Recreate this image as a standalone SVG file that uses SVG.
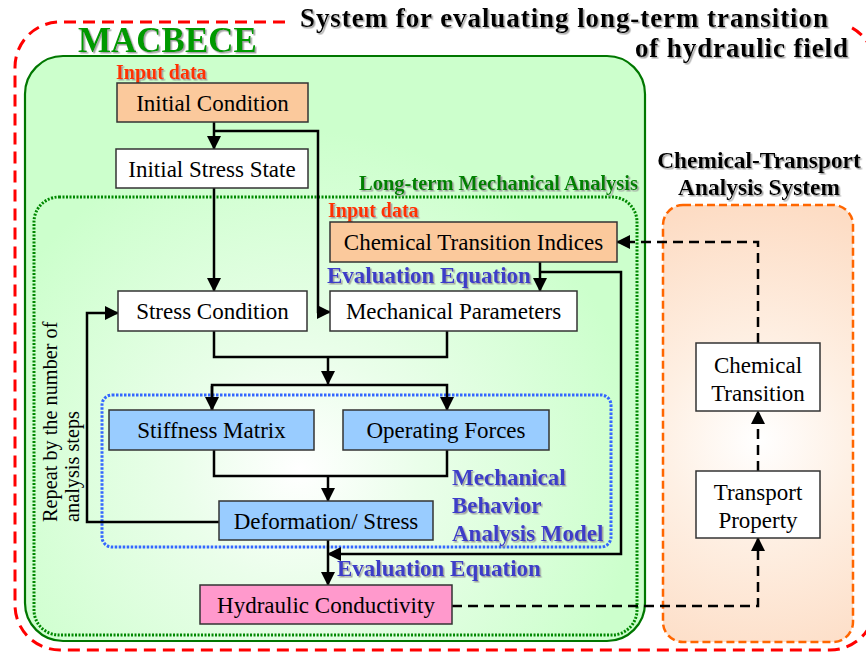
<svg xmlns="http://www.w3.org/2000/svg" width="866" height="652" viewBox="0 0 866 652">
<defs>
<radialGradient id="gGreen" gradientUnits="userSpaceOnUse" cx="300" cy="470" r="340">
<stop offset="0" stop-color="#ffffff"/><stop offset="0.35" stop-color="#eafeea"/><stop offset="1" stop-color="#ccffcc"/>
</radialGradient>
<radialGradient id="gOrange" gradientUnits="userSpaceOnUse" cx="758" cy="440" r="240">
<stop offset="0" stop-color="#ffffff"/><stop offset="0.4" stop-color="#fef0e4"/><stop offset="1" stop-color="#fddcc4"/>
</radialGradient>
<filter id="sh" x="-10%" y="-30%" width="120%" height="160%">
<feDropShadow dx="1.5" dy="1.5" stdDeviation="0.7" flood-color="#999" flood-opacity="0.9"/>
</filter>
<marker id="ah" markerUnits="userSpaceOnUse" markerWidth="14" markerHeight="14" viewBox="0 0 14 14" refX="13" refY="7" orient="auto">
<path d="M0,0 L14,7 L0,14 Z" fill="#000"/>
</marker>
</defs>
<style>
.box{stroke:#333;stroke-width:1.5}
.org{fill:#fbc99c}.wht{fill:#fff}.blu{fill:#99ccff}.pnk{fill:#ff99cc}
.bt{font-family:"Liberation Serif",serif;font-size:23px;fill:#000;text-anchor:middle}
.ttl{font-family:"Liberation Serif",serif;font-weight:bold;font-size:27px;fill:#000;filter:url(#sh)}
.inp{font-family:"Liberation Serif",serif;font-weight:bold;font-size:20px;fill:#ff3300;filter:url(#sh)}
.ev{font-family:"Liberation Serif",serif;font-weight:bold;font-size:23px;fill:#3c3cc8;filter:url(#sh)}
.grn{font-family:"Liberation Serif",serif;font-weight:bold;font-size:20.5px;fill:#008000;filter:url(#sh)}
.rep{font-family:"Liberation Serif",serif;font-size:20.3px;fill:#000}
.ct{font-family:"Liberation Serif",serif;font-weight:bold;font-size:23.4px;fill:#000;text-anchor:middle;filter:url(#sh)}
.ln{fill:none;stroke:#000;stroke-width:2.5}
.dl{fill:none;stroke:#000;stroke-width:2.5;stroke-dasharray:10,6}
</style>

<g id="frames">
<path d="M285,22 H60 A45,45 0 0 0 15,67 V605 A45,45 0 0 0 60,650 H830 A45,45 0 0 0 875,605 V67 A45,45 0 0 0 846,25" fill="none" stroke="#ff0000" stroke-width="3" stroke-dasharray="12,7"/>
<rect x="25" y="56" width="620" height="585" rx="38" fill="url(#gGreen)" stroke="#007700" stroke-width="2.2"/>
<rect x="34" y="197" width="603" height="438" rx="25" fill="none" stroke="#008800" stroke-width="3" stroke-dasharray="2,1.5"/>
<rect x="102" y="395" width="509" height="152" rx="10" fill="none" stroke="#3366ff" stroke-width="3" stroke-dasharray="2.5,1.5"/>
<rect x="663" y="205" width="190" height="437" rx="20" fill="url(#gOrange)" stroke="#ff6600" stroke-width="2.5" stroke-dasharray="8,4"/>
</g>

<g id="labels">
<text class="ttl" x="300" y="27" textLength="528" lengthAdjust="spacing">System for evaluating long-term transition</text>
<text class="ttl" x="635" y="57" textLength="213" lengthAdjust="spacing">of hydraulic field</text>
<text x="78" y="52" font-family="Liberation Serif,serif" font-weight="bold" font-size="35" fill="#009900" filter="url(#sh)">MACBECE</text>
<text class="inp" x="116" y="79">Input data</text>
<text class="grn" x="638" y="190" text-anchor="end">Long-term Mechanical Analysis</text>
<text class="inp" x="328" y="217">Input data</text>
<text class="ev" x="327" y="283">Evaluation Equation</text>
<text class="ev" x="452" y="485">Mechanical</text>
<text class="ev" x="452" y="513">Behavior</text>
<text class="ev" x="452" y="541">Analysis Model</text>
<text class="ev" x="337" y="576">Evaluation Equation</text>
<text class="rep" transform="translate(57,522) rotate(-90)">Repeat by the number of</text>
<text class="rep" transform="translate(79,522) rotate(-90)">analysis steps</text>
<text class="ct" x="759" y="168">Chemical-Transport</text>
<text class="ct" x="759" y="195">Analysis System</text>
</g>

<g id="connectors">
<path class="ln" d="M214,122 V149" marker-end="url(#ah)"/>
<path class="ln" d="M214,131 H318 V312 H330" marker-end="url(#ah)"/>
<path class="ln" d="M214,188 V291" marker-end="url(#ah)"/>
<path class="ln" d="M540,262 V291" marker-end="url(#ah)"/>
<path class="ln" d="M540,272 H621 V554 H328" marker-end="url(#ah)"/>
<path class="ln" d="M214,331 V357 H447 V331"/>
<path class="ln" d="M328,357 V384" marker-end="url(#ah)"/>
<path class="ln" d="M212,410 V385 H447 V410" marker-end="url(#ah)"/>
<path class="ln" d="M212,386 V410" marker-end="url(#ah)"/>
<path class="ln" d="M214,450 V476 H447 V450"/>
<path class="ln" d="M328,476 V501" marker-end="url(#ah)"/>
<path class="ln" d="M219,522 H87 V313 H118" marker-end="url(#ah)"/>
<path class="ln" d="M328,540 V585" marker-end="url(#ah)"/>
<path class="dl" d="M452,606 H758 V538" marker-end="url(#ah)"/>
<path class="dl" d="M758,471 V411" marker-end="url(#ah)"/>
<path class="dl" d="M758,343 V242 H617" marker-end="url(#ah)"/>
</g>

<g id="n-initial-condition"><rect class="box org" x="117" y="83" width="191" height="39"/><text class="bt" x="212.5" y="111">Initial Condition</text></g>
<g id="n-initial-stress"><rect class="box wht" x="116" y="149" width="192" height="39"/><text class="bt" x="212" y="177">Initial Stress State</text></g>
<g id="n-chem-indices"><rect class="box org" x="330" y="222" width="287" height="40"/><text class="bt" x="473.5" y="250">Chemical Transition Indices</text></g>
<g id="n-stress-condition"><rect class="box wht" x="118" y="291" width="189" height="40"/><text class="bt" x="212.5" y="319">Stress Condition</text></g>
<g id="n-mech-params"><rect class="box wht" x="330" y="291" width="247" height="40"/><text class="bt" x="453.5" y="319">Mechanical Parameters</text></g>
<g id="n-stiffness"><rect class="box blu" x="109" y="410" width="205" height="40"/><text class="bt" x="211.5" y="438">Stiffness Matrix</text></g>
<g id="n-forces"><rect class="box blu" x="343" y="410" width="206" height="40"/><text class="bt" x="446" y="438">Operating Forces</text></g>
<g id="n-deformation"><rect class="box blu" x="219" y="501" width="214" height="39"/><text class="bt" x="326" y="529">Deformation/ Stress</text></g>
<g id="n-hydraulic"><rect class="box pnk" x="200" y="585" width="252" height="39"/><text class="bt" x="326" y="613">Hydraulic Conductivity</text></g>
<g id="n-chem-transition"><rect class="box wht" x="696" y="343" width="124" height="68"/><text class="bt" x="758" y="373">Chemical</text><text class="bt" x="758" y="401">Transition</text></g>
<g id="n-transport"><rect class="box wht" x="696" y="471" width="124" height="67"/><text class="bt" x="758" y="500">Transport</text><text class="bt" x="758" y="528">Property</text></g>
</svg>
